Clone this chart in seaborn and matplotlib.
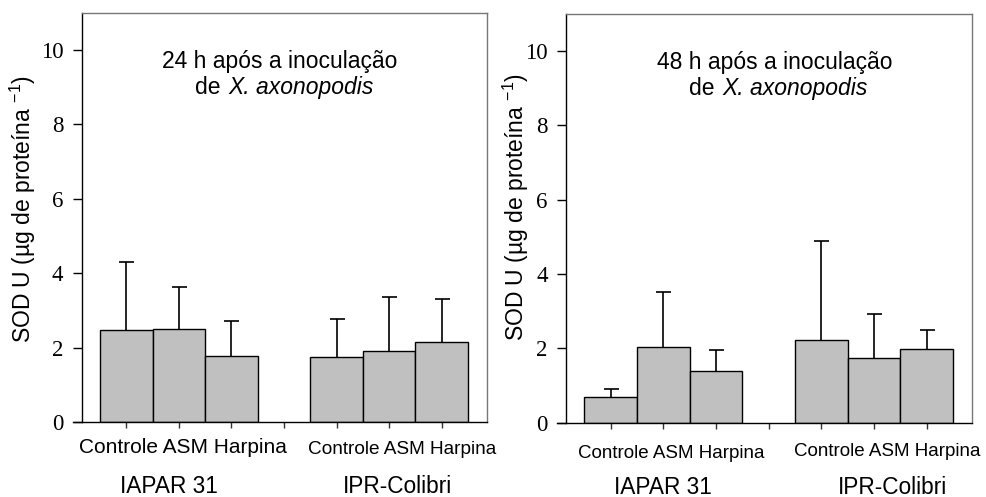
import numpy as np
import pandas as pd
import seaborn as sns
import matplotlib.pyplot as plt
from matplotlib import transforms

# data
cultivars = ["IAPAR 31", "IPR-Colibri"]
treatments = ["Controle", "ASM", "Harpina"]
sod_24h = [2.47, 2.49, 1.77, 1.76, 1.90, 2.15]
err_24h = [1.84, 1.13, 0.95, 1.00, 1.45, 1.16]
sod_48h = [0.70, 2.03, 1.38, 2.23, 1.75, 1.98]
err_48h = [0.22, 1.50, 0.57, 2.65, 1.18, 0.52]
panel_titles = ["24 h", "48 h"]
y_ticks = [0, 2, 4, 6, 8, 10]

sns.set_theme(style="ticks")
plt.rcParams["font.family"] = ["Liberation Sans", "DejaVu Sans"]
plt.rcParams["text.color"] = "black"
plt.rcParams["axes.labelcolor"] = "black"
plt.rcParams["mathtext.fontset"] = "custom"
plt.rcParams["mathtext.rm"] = "Liberation Sans"
plt.rcParams["mathtext.it"] = "Liberation Sans:italic"
plt.rcParams["mathtext.bf"] = "Liberation Sans:bold"

# categorical slots: 3 bars, an empty slot, 3 bars
slots = [f"{c}|{t}" for c in cultivars[:1] for t in treatments] + ["gap"] + \
        [f"{c}|{t}" for c in cultivars[1:] for t in treatments]


def make_df(values, errors):
    labels = [f"{c}|{t}" for c in cultivars for t in treatments]
    return pd.DataFrame({"slot": labels, "sod": values, "err": errors})


def draw_panel(ax, df, title, row_sizes, row_x, row_y, grp_x, title_x, de_x):
    sns.barplot(data=df, x="slot", y="sod", order=slots, ax=ax, width=1.0,
                color="#c0c0c0", saturation=1, edgecolor="black", linewidth=1.0,
                errorbar=None)
    xpos = [slots.index(s) for s in df["slot"]]
    eb = ax.errorbar(xpos, df["sod"], yerr=[np.zeros(len(df)), df["err"]], fmt="none",
                     ecolor="black", elinewidth=1.2, capsize=5.4, capthick=1.2)
    # only the upper cap is shown
    eb[1][0].set_visible(False)
    ax.set_xlim(-0.84, 6.86)
    ax.set_ylim(0, 11)
    ax.set_yticks(y_ticks)
    ax.set_xticks(range(len(slots)))
    ax.set_xticklabels([""] * len(slots))
    ax.set_xlabel("")
    ax.tick_params(axis="y", direction="out", length=6.5, width=1, pad=7,
                   labelsize=16.5, labelfontfamily="Liberation Serif", colors="black")
    ax.tick_params(axis="x", direction="out", length=4.3, width=1, colors="#333333")
    for side in ["left", "bottom"]:
        ax.spines[side].set_color("black")
        ax.spines[side].set_linewidth(1.0)
    for side in ["top", "right"]:
        ax.spines[side].set_color("#777777")
        ax.spines[side].set_linewidth(1.0)
    ax.spines["bottom"].set_bounds(-0.84 - 9 / 52.67, 6.86)

    ax.set_ylabel(r"SOD U (µg de proteína $^{-1}$)", fontsize=16.5)

    trans = transforms.blended_transform_factory(ax.transData, ax.transAxes)
    for i in range(2):
        ax.text(row_x[i], row_y[i], " ".join(treatments), transform=trans,
                ha="center", va="center", fontsize=row_sizes[i])
        ax.text(grp_x[i], -0.158, cultivars[i], transform=trans,
                ha="center", va="center", fontsize=16.3)
    ax.text(title_x, 9.69, f"{title} após a inoculação", ha="center", va="center",
            fontsize=16.5)
    ax.text(de_x, 9.0, "de", ha="right", va="center", fontsize=16.5)
    ax.text(de_x + 0.15, 9.0, "X. axonopodis", ha="left", va="center",
            fontsize=16.5, fontstyle="italic")


fig = plt.figure(figsize=(9.86, 4.97), dpi=100)
ax1 = fig.add_axes([0.0832, 0.151, 0.4107, 0.823])
ax2 = fig.add_axes([0.5743, 0.1495, 0.4115, 0.8223])

draw_panel(ax1, make_df(sod_24h, err_24h), panel_titles[0],
           row_sizes=[15, 13.7], row_x=[1.07, 5.24], row_y=[-0.0636, -0.068],
           grp_x=[0.82, 5.16], title_x=2.92, de_x=1.79)
draw_panel(ax2, make_df(sod_48h, err_48h), panel_titles[1],
           row_sizes=[13.5, 13.5], row_x=[1.16, 5.26], row_y=[-0.075, -0.07],
           grp_x=[1.0, 5.36], title_x=3.11, de_x=1.98)

ax1.yaxis.set_label_coords(-0.146, 0.52)
ax1.yaxis.label.set_va("center")
ax2.yaxis.set_label_coords(-0.123, 0.528)
ax2.yaxis.label.set_va("center")

fig.savefig("out.png", dpi=100, facecolor="white")
